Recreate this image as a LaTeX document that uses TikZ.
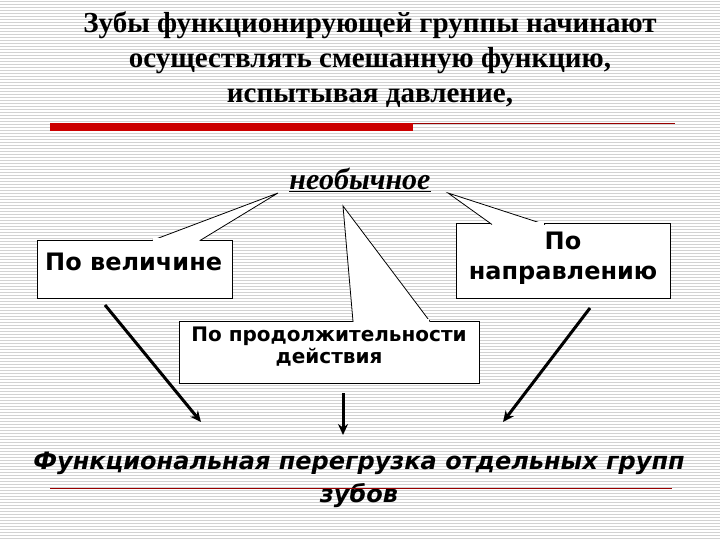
\documentclass[tikz,border=0pt]{standalone}
\usepackage{fontspec}
\setmainfont{Liberation Serif}
\newfontfamily\djsans{DejaVu Sans}
\usetikzlibrary{arrows.meta}
\begin{document}
\begin{tikzpicture}[x=1pt,y=-1pt,
 box/.style={draw=black,fill=white,line width=1pt},
 wedge/.style={draw=black,fill=white,line width=0.8pt},
 arr/.style={line width=3pt,-{Stealth[length=11pt,width=10pt]}}]
\useasboundingbox (0,0) rectangle (720,540);
\fill[white] (0,0) rectangle (720,540);
\foreach \i in {0,...,179}{\draw[gray!35,line width=0.8pt] (0,\i*3+1) -- (720,\i*3+1);}
% title
\node[font=\bfseries\fontsize{29}{35}\selectfont,align=center] (title) at (370,60) {Зубы функционирующей группы начинают\\ осуществлять смешанную функцию,\\ испытывая давление,};
\fill[red!80!black] (50,123) rectangle (413,131);
\draw[line width=0.6pt,red!60!black] (413,123.5) -- (675,123.5);
\node[font=\bfseries\itshape\fontsize{30}{34}\selectfont] (top) at (360,180) {\underline{необычное}};
% boxes
\draw[box] (37,240) rectangle (232,298);
\draw[box] (456,224) rectangle (670,298);
\draw[box] (179,321) rectangle (479,383);
\filldraw[wedge] (152,240.5) -- (278,193) -- (200,240.5);
\filldraw[wedge] (492,224.5) -- (448,193) -- (545,224.5);
\filldraw[wedge] (353,321.5) -- (343,206) -- (430,321.5);
\fill[white] (153,238) rectangle (199,241.5);
\fill[white] (493,222) rectangle (544,225.5);
\fill[white] (354,319) rectangle (429,322.5);
\node[font=\djsans\bfseries\fontsize{24}{28}\selectfont,anchor=west,inner sep=0pt] (b1) at (45,262) {По величине};
\node[font=\djsans\bfseries\fontsize{24}{30}\selectfont,align=center] (b2) at (563,258) {По\\направлению};
\node[font=\djsans\bfseries\fontsize{20}{22}\selectfont,align=center] (b3) at (329,347) {По продолжительности\\действия};
% arrows
\coordinate (a1s) at (105,305); \coordinate (a1e) at (201,422);
\coordinate (a2s) at (343,393); \coordinate (a2e) at (343,435);
\coordinate (a3s) at (590,308); \coordinate (a3e) at (503,422);
\draw[arr] (a1s) -- (a1e);
\draw[arr] (a2s) -- (a2e);
\draw[arr] (a3s) -- (a3e);
% bottom
\node[font=\djsans\bfseries\itshape\fontsize{24}{33}\selectfont,align=center] (bot) at (359,480) {Функциональная перегрузка отдельных групп\\зубов};
\draw[red!60!black,line width=0.8pt] (50,488) -- (672,488);
\end{tikzpicture}
\end{document}
